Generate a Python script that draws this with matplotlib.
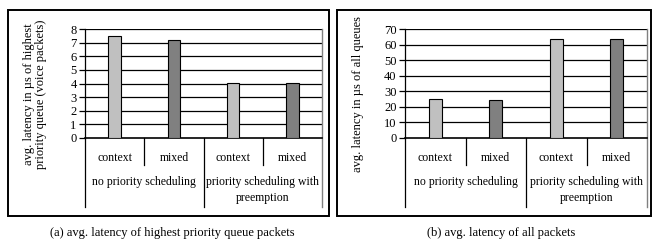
import numpy as np
import matplotlib.pyplot as plt
from matplotlib.patches import Rectangle

plt.rcParams['font.family'] = ['Liberation Serif', 'DejaVu Serif']
plt.rcParams['font.size'] = 8

# data
sub_labels = ["context", "mixed", "context", "mixed"]
group_labels = ["no priority scheduling", "priority scheduling with\npreemption"]
bar_colors = ["#c0c0c0", "#808080", "#c0c0c0", "#808080"]

high_prio_latency = [7.45, 7.2, 4.07, 4.05]
all_latency = [24.8, 24.2, 63.3, 63.8]

W, H = 652, 245
fig = plt.figure(figsize=(W / 100, H / 100), dpi=100)


def px_axes(x0, x1, ytop, ybot):
    return fig.add_axes([x0 / W, 1 - ybot / H, (x1 - x0) / W, (ybot - ytop) / H])


def frame(x0, x1, ytop, ybot):
    fig.patches.append(Rectangle((x0 / W, 1 - ybot / H), (x1 - x0) / W, (ybot - ytop) / H,
                                 transform=fig.transFigure, fill=False,
                                 edgecolor="black", linewidth=1.4))


def panel(ax, values, ymax, ystep):
    x = np.arange(len(values))
    ax.set_ylim(0, ymax)
    ax.set_xlim(-0.5, len(values) - 0.5)
    ax.set_yticks(np.arange(0, ymax + ystep, ystep))
    for yv in np.arange(ystep, ymax + ystep, ystep):
        ax.axhline(yv, color="black", linewidth=0.9, zorder=1)
    ax.bar(x, values, width=0.21, color=bar_colors, edgecolor="black",
           linewidth=0.8, zorder=3)
    for s in ["top", "right"]:
        ax.spines[s].set_visible(False)
    ax.spines["left"].set_linewidth(0.9)
    ax.spines["bottom"].set_linewidth(1.2)
    ax.set_xticks([])
    ax.tick_params(axis="y", length=4, width=0.9, pad=2, labelsize=9)

    tr = ax.get_xaxis_transform()
    # hierarchical category axis
    for xb in [-0.5, 1.5]:
        ax.plot([xb, xb], [0, -0.63], transform=tr, color="black", lw=0.9, clip_on=False)
    ax.plot([3.5, 3.5], [1, -0.63], transform=tr, color="#808080", lw=1.0, clip_on=False)
    for xb in [0.5, 2.5]:
        ax.plot([xb, xb], [0, -0.245], transform=tr, color="black", lw=0.9, clip_on=False)
    for xi, lab in zip(x, sub_labels):
        ax.text(xi, -0.18, lab, transform=tr, ha="center", va="center", fontsize=8.5)
    for gi, lab in enumerate(group_labels):
        ax.text(gi * 2 + 0.5, -0.35, lab, transform=tr, ha="center", va="top",
                fontsize=8.5, linespacing=1.45)


ax1 = px_axes(85, 322, 29, 138)
panel(ax1, high_prio_latency, 8, 1)
ax2 = px_axes(405, 647, 29, 138)
panel(ax2, all_latency, 70, 10)

frame(8, 329, 10, 216)
frame(337, 651, 10, 216)

fig.text(35 / W, 1 - 94 / H, "avg. latency in µs of highest\npriority queue (voice packets)",
         rotation=90, ha="center", va="center", fontsize=9, linespacing=1.05)
fig.text(358 / W, 1 - 94 / H, "avg. latency in µs of all queues",
         rotation=90, ha="center", va="center", fontsize=9)

fig.text(172 / W, 1 - 233 / H, "(a) avg. latency of highest priority queue packets",
         ha="center", va="center", fontsize=9)
fig.text(501 / W, 1 - 233 / H, "(b) avg. latency of all packets",
         ha="center", va="center", fontsize=9)

fig.savefig("out.png", dpi=100)
